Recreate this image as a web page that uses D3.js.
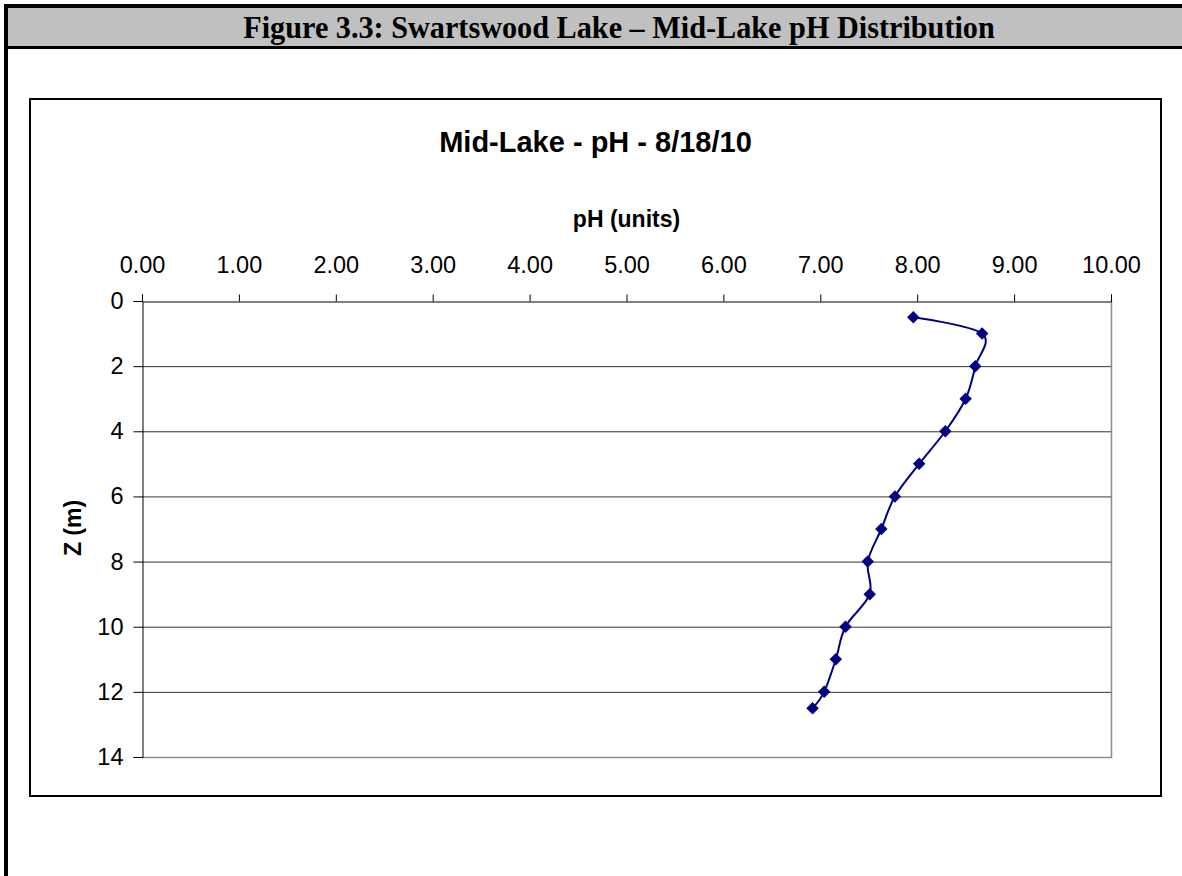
<!DOCTYPE html>
<html>
<head>
<meta charset="utf-8">
<script src="https://cdn.jsdelivr.net/npm/d3@7"></script>
<style>
  body { margin: 0; background: #fff; }
  svg { display: block; }
</style>
</head>
<body>
<div id="chart"></div>
<script>

// depth of each reading (m) and the pH measured there
var depths = [0.5, 1, 2, 3, 4, 5, 6, 7, 8, 9, 10, 11, 12, 12.5];
var ph_values = [7.96, 8.67, 8.60, 8.50, 8.29, 8.02, 7.77, 7.63, 7.49, 7.51, 7.26, 7.16, 7.04, 6.92];

var x_ticks = [0, 1, 2, 3, 4, 5, 6, 7, 8, 9, 10];
var y_ticks = [0, 2, 4, 6, 8, 10, 12, 14];

var header_text = "Figure 3.3: Swartswood Lake \u2013 Mid-Lake pH Distribution";
var chart_title = "Mid-Lake - pH - 8/18/10";
var x_title = "pH (units)";
var y_title = "Z (m)";

var W = 1182, H = 876;
var sans = "Arial, 'Liberation Sans', sans-serif";

var svg = d3.select("#chart")
    .append("svg")
    .attr("width", W)
    .attr("height", H);

/* page frame + grey figure header */
svg.append("rect")
    .attr("x", 4).attr("y", 4)
    .attr("width", W - 4).attr("height", 44)
    .attr("fill", "#c0c0c0");
svg.append("rect").attr("x", 4).attr("y", 4).attr("width", W - 4).attr("height", 4).attr("fill", "#000");
svg.append("rect").attr("x", 4).attr("y", 46).attr("width", W - 4).attr("height", 3).attr("fill", "#000");
svg.append("rect").attr("x", 4).attr("y", 4).attr("width", 4).attr("height", H - 4).attr("fill", "#000");

var header = svg.append("text")
    .attr("font-family", "'Times New Roman', 'Liberation Serif', serif")
    .attr("font-weight", "bold")
    .attr("font-size", 32)
    .attr("text-anchor", "middle")
    .text(header_text);
// the original header is a bit condensed, squeeze it to the measured width
var hw = header.node().getComputedTextLength();
header.attr("transform", "translate(619,38) scale(" + (752 / hw) + ",1)");

/* chart box */
svg.append("rect")
    .attr("x", 30).attr("y", 99)
    .attr("width", 1131).attr("height", 697)
    .attr("fill", "#fff")
    .attr("stroke", "#000")
    .attr("stroke-width", 2);

svg.append("text")
    .attr("x", 595.5).attr("y", 152)
    .attr("text-anchor", "middle")
    .attr("font-family", sans)
    .attr("font-weight", "bold")
    .attr("font-size", 29)
    .text(chart_title);

/* scales: pH along the top, depth going down */
var x = d3.scaleLinear().domain([0, 10]).range([142, 1111]);
var y = d3.scaleLinear().domain([0, 14]).range([301, 757]);

// horizontal gridlines
svg.append("g")
    .selectAll("line")
    .data(y_ticks.filter(function(d) { return d > 0 && d < 14; }))
    .enter()
    .append("line")
    .attr("x1", x(0)).attr("x2", x(10))
    .attr("y1", function(d) { return y(d) + 0.5; })
    .attr("y2", function(d) { return y(d) + 0.5; })
    .attr("stroke", "#333")
    .attr("stroke-width", 1);

// plot area border (right + bottom, light grey)
svg.append("path")
    .attr("d", "M" + (x(10) + 0.5) + "," + y(0) + "V" + (y(14) + 0.5) + "H" + x(0))
    .attr("fill", "none")
    .attr("stroke", "#8c8c8c")
    .attr("stroke-width", 1.5);

var xAxis = svg.append("g")
    .attr("transform", "translate(0," + (y(0) + 0.5) + ")")
    .call(d3.axisTop(x)
        .tickValues(x_ticks)
        .tickFormat(d3.format(".2f"))
        .tickSize(7)
        .tickPadding(22));

var yAxis = svg.append("g")
    .attr("transform", "translate(" + (x(0) + 0.5) + ",0)")
    .call(d3.axisLeft(y)
        .tickValues(y_ticks)
        .tickFormat(d3.format("d"))
        .tickSize(9)
        .tickPadding(10));

[xAxis, yAxis].forEach(function(ax) {
    ax.selectAll("path.domain").attr("stroke", "#000").attr("stroke-width", 1);
    ax.selectAll(".tick line").attr("stroke", "#000");
    ax.selectAll("text")
        .attr("font-family", sans)
        .attr("font-size", 23.5)
        .attr("fill", "#000");
});

svg.append("text")
    .attr("x", 626.5).attr("y", 227)
    .attr("text-anchor", "middle")
    .attr("font-family", sans)
    .attr("font-weight", "bold")
    .attr("font-size", 23)
    .text(x_title);

svg.append("text")
    .attr("transform", "translate(81,528) rotate(-90)")
    .attr("text-anchor", "middle")
    .attr("font-family", sans)
    .attr("font-weight", "bold")
    .attr("font-size", 23)
    .text(y_title);

/* smoothed profile line + diamond markers */
var points = depths.map(function(d, i) { return {z: d, ph: ph_values[i]}; });

var line = d3.line()
    .x(function(d) { return x(d.ph); })
    .y(function(d) { return y(d.z); })
    .curve(d3.curveCatmullRom.alpha(0));

svg.append("path")
    .datum(points)
    .attr("d", line)
    .attr("fill", "none")
    .attr("stroke", "#000080")
    .attr("stroke-width", 2);

svg.append("g")
    .selectAll("path")
    .data(points)
    .enter()
    .append("path")
    .attr("d", d3.symbol().type(d3.symbolSquare).size(78))
    .attr("transform", function(d) {
        return "translate(" + x(d.ph) + "," + y(d.z) + ") rotate(45)";
    })
    .attr("fill", "#000080");

</script>
</body>
</html>
